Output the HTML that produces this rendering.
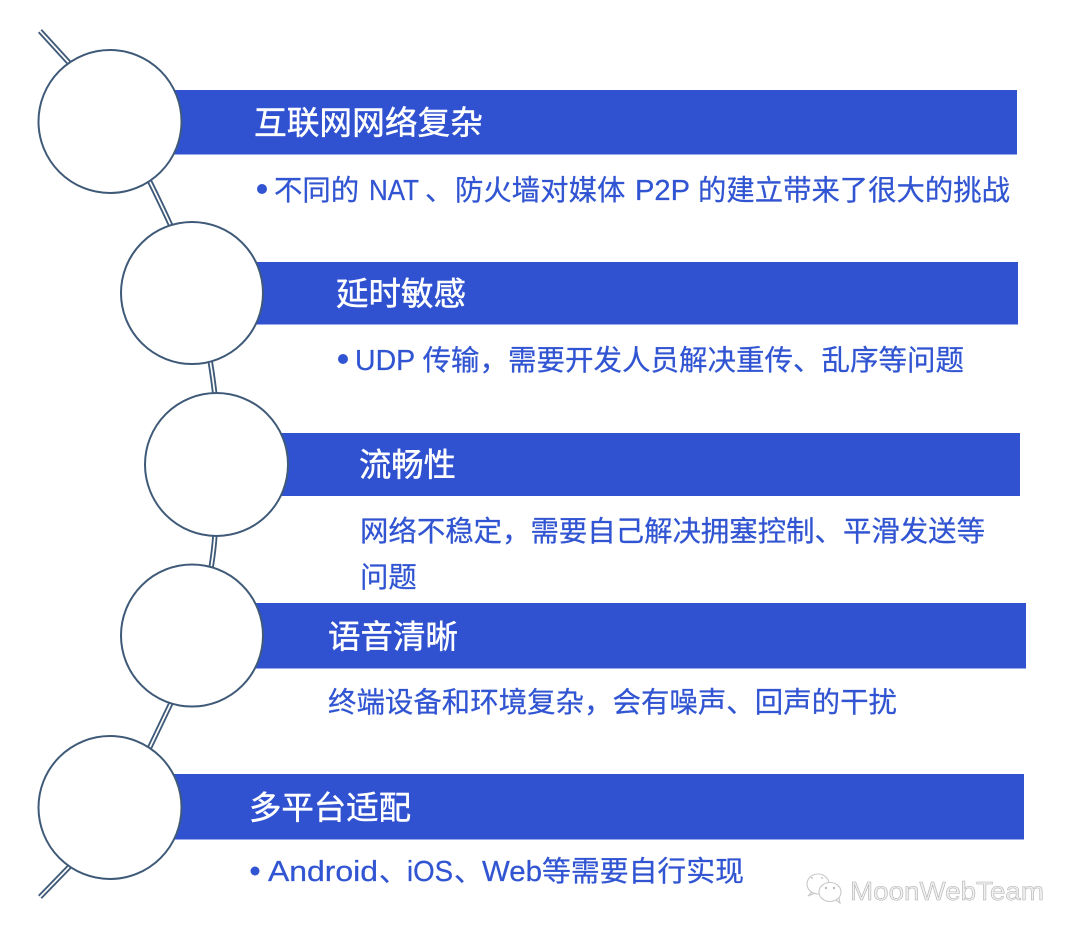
<!DOCTYPE html>
<html lang="zh">
<head>
<meta charset="utf-8">
<title>diagram</title>
<style>
html,body{margin:0;padding:0;background:#fff;width:1080px;height:935px;overflow:hidden}
svg{display:block}
text{font-family:"Liberation Sans","Noto Sans CJK SC",sans-serif;white-space:pre}
.t{font-size:32.5px;fill:#fff;stroke:#fff;stroke-width:.45}
.b{font-size:28.4px;fill:#3155d2;stroke:#3155d2;stroke-width:.25}
.c{fill:#fff;stroke:#3f5a78;stroke-width:2}
.o{fill:none;stroke:#3f5a78;stroke-width:5.4}
.i{fill:none;stroke:#fff;stroke-width:1.7}
</style>
</head>
<body>
<svg width="1080" height="935" viewBox="0 0 1080 935" xmlns="http://www.w3.org/2000/svg">
<rect width="1080" height="935" fill="#fff"/>

<!-- connectors -->
<g class="o">
<path d="M40 31 L72 66"/>
<path d="M149 180 Q160 202 171 226"/>
<path d="M210 360 Q213 378 215 396"/>
<path d="M215 534 Q214 550 211 568"/>
<path d="M171 703 Q160 726 149 749"/>
<path d="M72 864 L40 897"/>
</g>
<g class="i">
<path d="M40 31 L72 66"/>
<path d="M149 180 Q160 202 171 226"/>
<path d="M210 360 Q213 378 215 396"/>
<path d="M215 534 Q214 550 211 568"/>
<path d="M171 703 Q160 726 149 749"/>
<path d="M72 864 L40 897"/>
</g>

<!-- bars -->
<g fill="#3052d1">
<rect x="110" y="90" width="907" height="64.5"/>
<rect x="192" y="262" width="826" height="62.5"/>
<rect x="216" y="433" width="804" height="63"/>
<rect x="192" y="603" width="834" height="65.5"/>
<rect x="110" y="774" width="914" height="65.5"/>
</g>

<!-- circles -->
<circle class="c" cx="110" cy="121.5" r="71.5"/>
<circle class="c" cx="192" cy="293" r="71"/>
<circle class="c" cx="216.5" cy="464.5" r="71.5"/>
<circle class="c" cx="192" cy="635.5" r="71"/>
<circle class="c" cx="110" cy="807.5" r="71.5"/>

<!-- titles -->
<text class="t" x="254" y="134" textLength="229" lengthAdjust="spacingAndGlyphs">互联网网络复杂</text>
<text class="t" x="336" y="305" textLength="130" lengthAdjust="spacingAndGlyphs">延时敏感</text>
<text class="t" x="359" y="476" textLength="97" lengthAdjust="spacingAndGlyphs">流畅性</text>
<text class="t" x="328" y="648" textLength="130" lengthAdjust="spacingAndGlyphs">语音清晰</text>
<text class="t" x="249" y="819" textLength="162" lengthAdjust="spacingAndGlyphs">多平台适配</text>

<!-- bodies -->
<circle cx="262" cy="189" r="5" fill="#3155d2"/>
<text class="b" x="274" y="200">不同的</text>
<text class="b" x="369" y="200" textLength="50" lengthAdjust="spacingAndGlyphs">NAT</text>
<text class="b" x="425" y="200">、</text>
<text class="b" x="455" y="200">防火墙对媒体</text>
<text class="b" x="635" y="200" textLength="55" lengthAdjust="spacingAndGlyphs">P2P</text>
<text class="b" x="698" y="200" textLength="312" lengthAdjust="spacingAndGlyphs">的建立带来了很大的挑战</text>

<circle cx="343" cy="359" r="5" fill="#3155d2"/>
<text class="b" x="355" y="370" textLength="609" lengthAdjust="spacingAndGlyphs">UDP 传输，需要开发人员解决重传、乱序等问题</text>
<text class="b" x="360" y="541" textLength="625" lengthAdjust="spacingAndGlyphs">网络不稳定，需要自己解决拥塞控制、平滑发送等</text>
<text class="b" x="360" y="587">问题</text>
<text class="b" x="328" y="712" textLength="569" lengthAdjust="spacingAndGlyphs">终端设备和环境复杂，会有噪声、回声的干扰</text>

<circle cx="255" cy="871" r="4.5" fill="#3155d2"/>
<text class="b" x="268" y="881" textLength="110" lengthAdjust="spacingAndGlyphs">Android</text>
<text class="b" x="379" y="881">、</text>
<text class="b" x="407" y="881" textLength="46" lengthAdjust="spacingAndGlyphs">iOS</text>
<text class="b" x="454" y="881">、</text>
<text class="b" x="482" y="881" textLength="60" lengthAdjust="spacingAndGlyphs">Web</text>
<text class="b" x="542" y="881" textLength="202" lengthAdjust="spacingAndGlyphs">等需要自行实现</text>

<!-- watermark -->
<g fill="none" stroke="#c8c8c8" stroke-width="1.1">
<ellipse cx="818" cy="884" rx="11" ry="10"/>
<ellipse cx="830" cy="892" rx="11" ry="9.5" fill="#fff"/>
<path d="M836 900 L840 903 L839 898"/>
<path d="M812 892 L808 896 L815 893"/>
</g>
<circle cx="812" cy="878" r="1" fill="#ccc"/>
<circle cx="822" cy="878" r="1" fill="#ccc"/>
<circle cx="826" cy="888" r="1.2" fill="#bbb"/>
<circle cx="834" cy="888" r="1.2" fill="#bbb"/>
<text x="850" y="900" font-size="26" fill="#f0f0f0" stroke="#b0b0b0" stroke-width="0.55" textLength="194" lengthAdjust="spacingAndGlyphs">MoonWebTeam</text>
</svg>
</body>
</html>
